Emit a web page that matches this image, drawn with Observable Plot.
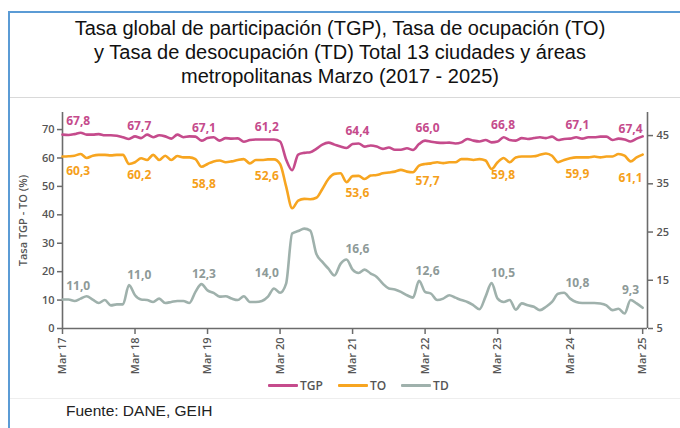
<!DOCTYPE html>
<html>
<head>
<meta charset="utf-8">
<script src="https://cdn.jsdelivr.net/npm/d3@7"></script>
<script src="https://cdn.jsdelivr.net/npm/@observablehq/plot@0.6"></script>
<style>
html,body{margin:0;padding:0;background:#fff;width:680px;height:428px;overflow:hidden;}
#wrap{position:relative;width:680px;height:428px;}
#bl{position:absolute;left:8px;top:11px;width:2px;height:417px;background:#5B9BD5;}
#bt{position:absolute;left:8px;top:11px;width:672px;height:2px;background:#5B9BD5;}
#title{position:absolute;left:0;top:16px;width:680px;text-align:center;font:20px "Liberation Sans",Arial,sans-serif;line-height:24px;color:#111;}
#sep1{position:absolute;left:10px;top:97px;width:670px;height:1px;background:#d9d9d9;}
#sep2{position:absolute;left:10px;top:398px;width:670px;height:1px;background:#eeeeee;}
#chart{position:absolute;left:0;top:98px;}
#legend{position:absolute;left:268px;top:377px;display:flex;align-items:center;font:600 12px "Open Sans",sans-serif;color:#555;}
#legend .it{display:flex;align-items:center;margin-right:15px;}
#legend .sw{width:30px;height:3px;margin-right:2px;border-radius:1px;}
#source{position:absolute;left:66px;top:402px;font:15.5px "Liberation Sans",Arial,sans-serif;color:#222;}
</style>
</head>
<body>
<div id="wrap">
  <div id="bl"></div><div id="bt"></div>
  <div id="title">Tasa global de participación (TGP), Tasa de ocupación (TO)<br>y Tasa de desocupación (TD) Total 13 ciudades y áreas<br>metropolitanas Marzo (2017 - 2025)</div>
  <div id="sep1"></div>
  <div id="chart"></div>
  <div id="legend"></div>
  <div id="sep2"></div>
  <div id="source">Fuente: DANE, GEIH</div>
</div>
<script>
// Monthly series, Mar 2017 .. Mar 2025 (97 months)
const tgp = [68.2,68.1,68.4,68.9,68.2,68.2,68.4,68.0,68.0,67.8,67.3,66.7,
67.6,67.0,68.2,67.3,68.0,67.6,66.8,68.2,67.3,67.6,67.5,66.1,
67.0,67.3,66.1,67.0,66.8,66.9,65.7,66.3,66.5,66.5,66.5,66.5,
65.8,59.5,55.7,61.2,61.8,62.0,63.2,64.7,65.4,64.7,64.0,63.5,
64.9,65.1,64.0,64.4,64.0,63.2,63.7,62.9,62.9,63.4,62.8,64.9,
66.1,65.7,65.4,65.3,65.4,65.1,65.5,66.7,66.1,65.8,66.3,65.5,
65.8,67.3,66.3,66.1,67.0,66.7,67.0,67.3,67.0,67.5,66.3,66.7,
66.8,67.3,66.8,67.3,67.3,67.5,67.5,66.3,66.8,66.5,65.8,66.8,
67.6];
const to = [60.5,60.6,60.8,61.4,60.0,60.8,61.1,61.1,60.9,61.1,61.1,57.9,
58.5,59.9,59.3,61.1,59.3,60.8,59.3,60.7,60.2,60.2,59.6,56.9,
57.9,58.8,59.1,58.5,58.8,59.3,59.6,58.1,59.3,59.3,59.5,59.5,
57.9,50.0,42.3,45.0,45.6,45.5,46.0,49.1,52.6,54.4,54.6,51.5,
53.6,53.7,52.6,53.8,54.0,54.6,54.9,55.2,55.8,55.2,55.0,57.3,
57.9,58.1,58.5,58.2,58.5,58.5,59.6,59.6,59.3,59.6,59.1,56.1,
58.5,60.0,58.5,60.2,60.5,60.5,60.6,61.1,61.6,60.8,58.5,59.3,
59.9,60.2,60.2,60.2,60.5,60.2,60.5,60.5,61.4,60.8,58.8,60.2,
61.2];
const td = [11.0,11.0,10.7,11.2,11.7,11.0,10.3,10.9,9.8,10.0,10.0,14.0,
11.9,11.0,10.9,10.5,11.2,10.3,10.5,10.7,10.7,10.3,12.6,14.2,
12.9,12.4,11.6,11.7,11.2,10.9,11.7,10.5,10.5,10.7,11.6,13.3,
12.4,14.3,24.7,25.2,25.7,25.3,20.5,18.8,17.4,16.0,18.4,19.3,
17.2,16.5,17.2,16.4,15.7,14.3,13.3,13.1,12.6,11.9,11.4,14.9,
12.6,12.2,10.9,11.2,11.9,11.4,10.9,10.5,9.8,9.0,11.6,14.4,
11.2,10.5,10.9,8.9,10.2,9.8,9.5,8.8,9.5,10.5,12.2,12.4,
11.2,10.5,10.3,10.3,10.3,10.2,9.8,8.8,9.1,8.1,10.9,10.2,
9.3];

const xTickLabels = ["Mar 17","Mar 18","Mar 19","Mar 20","Mar 21","Mar 22","Mar 23","Mar 24","Mar 25"];
const leftTicks = [0,10,20,30,40,50,60,70];
const rightTicks = [5,15,25,35,45];

// Data labels (values for March of each year) and the month they are anchored to
const tgpLabels = ["67,8","67,7","67,1","61,2","64,4","66,0","66,8","67,1","67,4"];
const toLabels  = ["60,3","60,2","58,8","52,6","53,6","57,7","59,8","59,9","61,1"];
const tdLabels  = ["11,0","11,0","12,3","14,0","16,6","12,6","10,5","10,8","9,3"];
const labelMonths = [2.6, 12.7, 23.4, 33.8, 48.8, 60.4, 72.9, 85.2, 94.0];

const seriesNames = ["TGP","TO","TD"];
const colors = {TGP:"#C54B8C", TO:"#F7A520", TD:"#9FB1AC"};
const labelColors = {TGP:"#C54B8C", TO:"#F5A01A", TD:"#8E9A98"};

// secondary (TD) axis mapped onto the primary axis
const k = 1.697;
const toLeft = v => (v - 5) * k;
const fromLeft = v => Math.round(v / k + 5);

const xMax = 96.8;
const idx = (d, i) => i;
const axisColor = "#6b6b6b";
const tickFont = "'Open Sans', sans-serif";

const tdPeak = i => {
  const c = Math.round(labelMonths[i]);
  return d3.max(td.slice(Math.max(0, c - 3), c + 4));
};

const chart = Plot.plot({
  width: 680,
  height: 280,
  marginTop: 14,
  marginBottom: 50,
  marginLeft: 62,
  marginRight: 33,
  style: {fontFamily: tickFont, fontSize: "11px", fontWeight: 600, color: "#555", background: "transparent"},
  x: {domain: [0, xMax]},
  y: {domain: [0, 76]},
  marks: [
    Plot.axisY(leftTicks, {anchor: "left", tickSize: 5, tickPadding: 3, label: null, stroke: axisColor, strokeWidth: 1.5, fontSize: 11}),
    Plot.axisY(rightTicks.map(toLeft), {anchor: "right", tickSize: 5, tickPadding: 4, label: null, tickFormat: d => String(fromLeft(d)), stroke: axisColor, strokeWidth: 1.5, fontSize: 11}),
    Plot.axisX(xTickLabels.map((d, i) => i * 12), {anchor: "bottom", tickSize: 6, tickPadding: 3, tickRotate: -90, label: null, tickFormat: d => xTickLabels[d / 12], stroke: axisColor, strokeWidth: 1.5, fontSize: 11}),
    Plot.ruleX([0, xMax], {y1: 0, y2: 76, stroke: axisColor, strokeWidth: 1.6}),
    Plot.ruleY([0], {x1: 0, x2: xMax, stroke: axisColor, strokeWidth: 1.6}),
    Plot.text(["Tasa TGP - TO (%)"], {frameAnchor: "left", textAnchor: "middle", dx: -39, rotate: -90, text: d => d, fontSize: 11, fill: "#555", fontWeight: 600}),
    Plot.line(td, {x: idx, y: d => toLeft(d), stroke: colors.TD, strokeWidth: 2.6, curve: "monotone-x"}),
    Plot.line(to, {x: idx, y: d => d, stroke: colors.TO, strokeWidth: 2.6, curve: "monotone-x"}),
    Plot.line(tgp, {x: idx, y: d => d, stroke: colors.TGP, strokeWidth: 2.6, curve: "monotone-x"}),
    Plot.text(tgpLabels, {x: (d, i) => labelMonths[i], y: (d, i) => tgp[Math.round(labelMonths[i])], dy: -12, text: d => d, fill: labelColors.TGP, fontSize: 12, fontWeight: "bold"}),
    Plot.text(toLabels, {x: (d, i) => labelMonths[i], y: (d, i) => to[Math.round(labelMonths[i])], dy: 17, text: d => d, fill: labelColors.TO, fontSize: 12, fontWeight: "bold"}),
    Plot.text(tdLabels, {x: (d, i) => labelMonths[i], y: (d, i) => toLeft(tdPeak(i)), dy: -10, text: d => d, fill: labelColors.TD, fontSize: 12, fontWeight: "bold"})
  ]
});
document.getElementById("chart").appendChild(chart);

const legend = document.getElementById("legend");
seriesNames.forEach(name => {
  const it = document.createElement("div");
  it.className = "it";
  const sw = document.createElement("div");
  sw.className = "sw";
  sw.style.background = colors[name];
  const t = document.createElement("span");
  t.textContent = name;
  it.appendChild(sw); it.appendChild(t);
  legend.appendChild(it);
});
</script>
</body>
</html>
